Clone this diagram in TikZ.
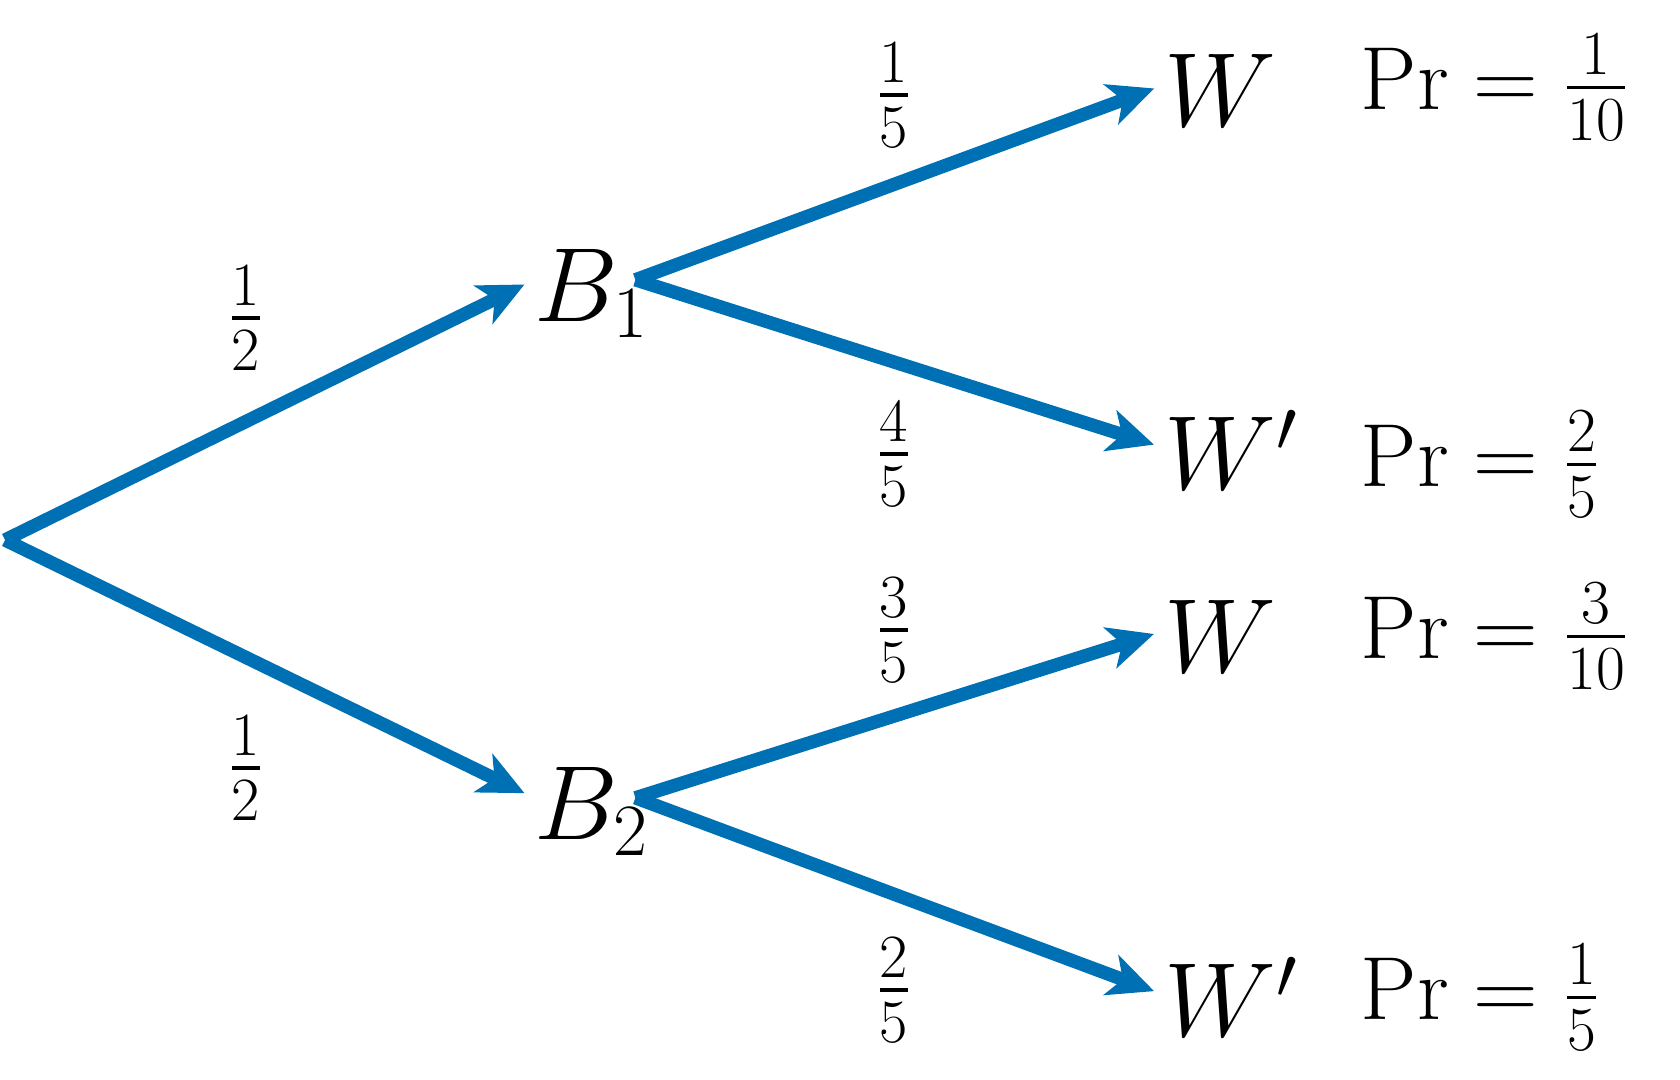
\RequirePackage{fix-cm}
\documentclass[tikz,border=0pt]{standalone}
\usepackage{amsmath}
\usepackage{xcolor}
\usepackage{tikz}
\usetikzlibrary{arrows.meta}
\definecolor{treeblue}{RGB}{0,112,180}

\begin{document}
\begin{tikzpicture}[
  branch/.style={
    -{Stealth[length=13pt, width=12pt, inset=3.5pt]},
    line width=3.8pt, treeblue, shorten >=3pt
  },
  evt/.style={inner sep=0pt, text height=24pt, text depth=0pt,
    anchor=base west, font=\fontsize{30}{36}\selectfont},
  prob/.style={inner sep=0pt, font=\fontsize{25}{30}\selectfont},
  res/.style={inner sep=0pt, anchor=base west, font=\fontsize{25.5}{30}\selectfont}
]
  \useasboundingbox (0,0) rectangle (16.8,10.8);

  % root
  \coordinate (root) at (0.05,5.40);

  % level 1
  \node[evt] (B1) at (5.34,7.58) {$B_1$};
  \node[evt] (B2) at (5.34,2.40) {$B_2$};

  % level 2
  \node[evt] (W1)  at (11.64,9.53) {$W$};
  \node[evt] (Wc1) at (11.64,5.90) {$W'$};
  \node[evt] (W2)  at (11.64,4.07) {$W$};
  \node[evt] (Wc2) at (11.64,0.43) {$W'$};

  % results
  \node[res] (r1) at (13.60,9.70) {$\mathrm{Pr} = \tfrac{1}{10}$};
  \node[res] (r2) at (13.60,5.93) {$\mathrm{Pr} = \tfrac{2}{5}$};
  \node[res] (r3) at (13.60,4.21) {$\mathrm{Pr} = \tfrac{3}{10}$};
  \node[res] (r4) at (13.60,0.60) {$\mathrm{Pr} = \tfrac{1}{5}$};

  % branch probabilities
  \node[prob] (pb1)  at (2.46,7.62) {$\tfrac{1}{2}$};
  \node[prob] (pb2)  at (2.46,3.12) {$\tfrac{1}{2}$};
  \node[prob] (pw1)  at (8.94,9.85) {$\tfrac{1}{5}$};
  \node[prob] (pwc1) at (8.94,6.26) {$\tfrac{4}{5}$};
  \node[prob] (pw2)  at (8.94,4.50) {$\tfrac{3}{5}$};
  \node[prob] (pwc2) at (8.94,0.90) {$\tfrac{2}{5}$};

  \draw[branch] (root) -- (B1.west);
  \draw[branch] (root) -- (B2.west);
  \draw[branch] ([xshift=-4pt]B1.east) -- (W1.west);
  \draw[branch] ([xshift=-4pt]B1.east) -- (Wc1.west);
  \draw[branch] ([xshift=-4pt]B2.east) -- (W2.west);
  \draw[branch] ([xshift=-4pt]B2.east) -- (Wc2.west);
\end{tikzpicture}
\end{document}
